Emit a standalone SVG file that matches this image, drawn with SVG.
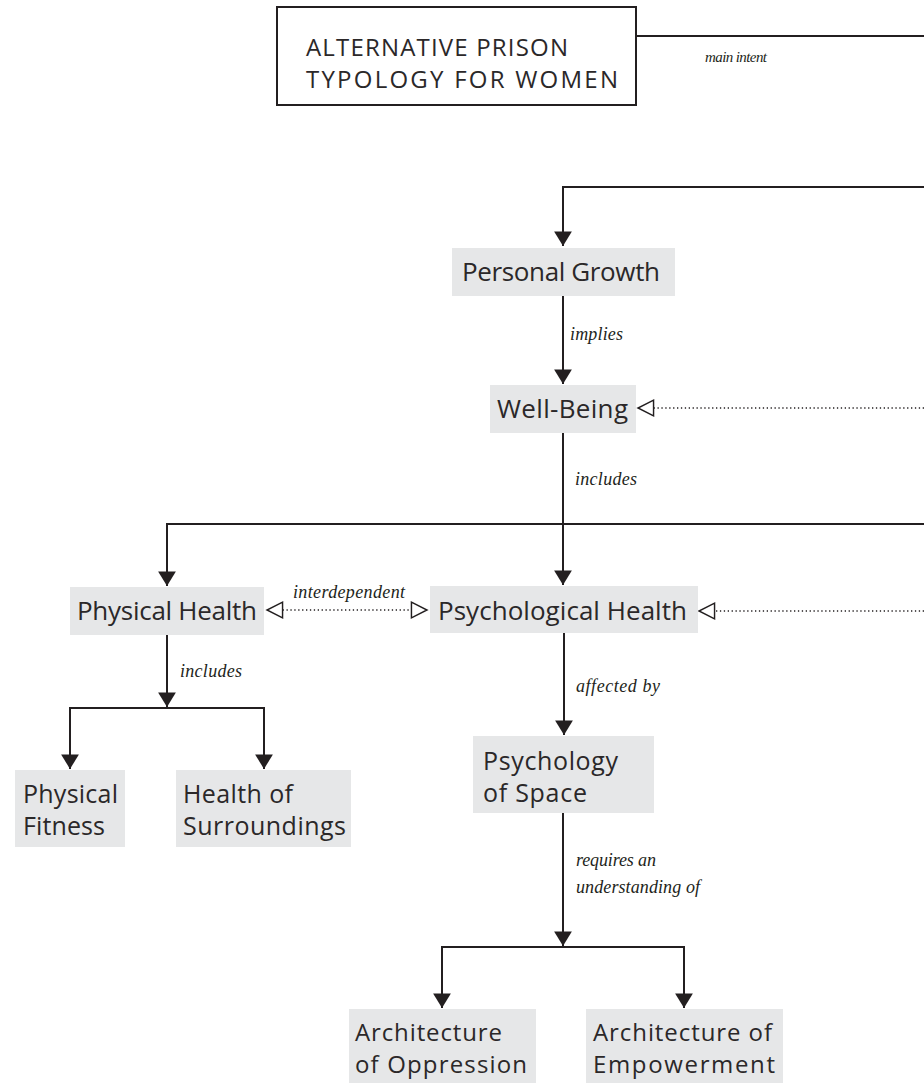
<svg xmlns="http://www.w3.org/2000/svg" width="924" height="1083" viewBox="0 0 924 1083">
<style>
.box{fill:#e6e7e8}
.t{font-family:"Open Sans","Noto Sans",sans-serif;font-size:26px;fill:#2b2829}
.t2{font-family:"Open Sans","Noto Sans",sans-serif;font-size:25px;fill:#2b2829}
.t3{font-family:"Open Sans","Noto Sans",sans-serif;font-size:24px;fill:#2b2829}
.title{font-family:"Open Sans","Noto Sans",sans-serif;font-size:24px;fill:#2b2829}
.lbl{font-family:"Liberation Serif",serif;font-style:italic;font-size:18px;fill:#231f20}
.solid{fill:none;stroke:#231f20;stroke-width:2}
.dot{fill:none;stroke:#231f20;stroke-width:1.3;stroke-dasharray:1.3 2.6}
</style>
<defs>
<marker id="ah" markerUnits="userSpaceOnUse" markerWidth="20" markerHeight="20" viewBox="-1 -9 16 18" refX="13" refY="0" orient="auto">
<path d="M0,-8 L13,0 L0,8 z" fill="#231f20"/>
</marker>
<marker id="hh" markerUnits="userSpaceOnUse" markerWidth="20" markerHeight="20" viewBox="-2 -9 18 18" refX="14" refY="0" orient="auto-start-reverse">
<path d="M0,-7 L14,0 L0,7 z" fill="#ffffff" stroke="#231f20" stroke-width="1.3"/>
</marker>
</defs>
<rect width="924" height="1083" fill="#ffffff"/>
<g id="connectors">
<path class="solid" d="M636,36 H924"/>
<path class="solid" d="M924,187 H563 V246" marker-end="url(#ah)"/>
<path class="solid" d="M563,296 V384" marker-end="url(#ah)"/>
<path class="dot" d="M924,408 H638" marker-end="url(#hh)"/>
<path class="solid" d="M563,433 V585" marker-end="url(#ah)"/>
<path class="solid" d="M924,524 H167 V586" marker-end="url(#ah)"/>
<path class="dot" d="M267,610 H427" marker-start="url(#hh)" marker-end="url(#hh)"/>
<path class="dot" d="M924,611 H699" marker-end="url(#hh)"/>
<path class="solid" d="M167,635 V707" marker-end="url(#ah)"/>
<path class="solid" d="M70,769 V708 H264 V769" marker-end="url(#ah)"/>
<path class="solid" d="M70,708 V769" marker-end="url(#ah)"/>
<path class="solid" d="M564,633 V735" marker-end="url(#ah)"/>
<path class="solid" d="M563,813 V946" marker-end="url(#ah)"/>
<path class="solid" d="M442,1008 V947 H684 V1008" marker-end="url(#ah)"/>
<path class="solid" d="M442,947 V1008" marker-end="url(#ah)"/>
<text class="lbl" x="705" y="62" style="font-size:15px" textLength="62">main intent</text>
<text class="lbl" x="570" y="340" textLength="53">implies</text>
<text class="lbl" x="575" y="485" textLength="62">includes</text>
<text class="lbl" x="293" y="598" textLength="112">interdependent</text>
<text class="lbl" x="180" y="677" textLength="62">includes</text>
<text class="lbl" x="576" y="692" textLength="84">affected by</text>
<text class="lbl" x="576" y="866" textLength="80">requires an</text>
<text class="lbl" x="576" y="893" textLength="124">understanding of</text>
</g>
<g id="title">
<rect x="277" y="7" width="359" height="98" fill="#ffffff" stroke="#231f20" stroke-width="2"/>
<text class="title" x="306" y="56" textLength="262">ALTERNATIVE PRISON</text>
<text class="title" x="306" y="88" textLength="312">TYPOLOGY FOR WOMEN</text>
</g>
<g id="personal-growth">
<rect class="box" x="452" y="248" width="223" height="48"/>
<text class="t" x="462" y="281" textLength="198">Personal Growth</text>
</g>
<g id="well-being">
<rect class="box" x="490" y="385" width="146" height="48"/>
<text class="t" x="497" y="418" textLength="131">Well-Being</text>
</g>
<g id="physical-health">
<rect class="box" x="70" y="587" width="194" height="48"/>
<text class="t" x="77" y="620" textLength="180">Physical Health</text>
</g>
<g id="psychological-health">
<rect class="box" x="430" y="586" width="268" height="47"/>
<text class="t" x="438" y="620" textLength="249">Psychological Health</text>
</g>
<g id="physical-fitness">
<rect class="box" x="15" y="770" width="110" height="77"/>
<text class="t2" x="23" y="803" textLength="95">Physical</text>
<text class="t2" x="23" y="835" textLength="82">Fitness</text>
</g>
<g id="health-of-surroundings">
<rect class="box" x="176" y="770" width="175" height="77"/>
<text class="t2" x="183" y="803" textLength="110">Health of</text>
<text class="t2" x="183" y="835" textLength="163">Surroundings</text>
</g>
<g id="psychology-of-space">
<rect class="box" x="473" y="736" width="181" height="77"/>
<text class="t2" x="483" y="770" textLength="135">Psychology</text>
<text class="t2" x="483" y="802" textLength="104">of Space</text>
</g>
<g id="architecture-of-oppression">
<rect class="box" x="349" y="1009" width="187" height="74"/>
<text class="t3" x="355" y="1041" textLength="147">Architecture</text>
<text class="t3" x="355" y="1073" textLength="172">of Oppression</text>
</g>
<g id="architecture-of-empowerment">
<rect class="box" x="586" y="1009" width="197" height="74"/>
<text class="t3" x="593" y="1041" textLength="179">Architecture of</text>
<text class="t3" x="593" y="1073" textLength="182">Empowerment</text>
</g>
</svg>
